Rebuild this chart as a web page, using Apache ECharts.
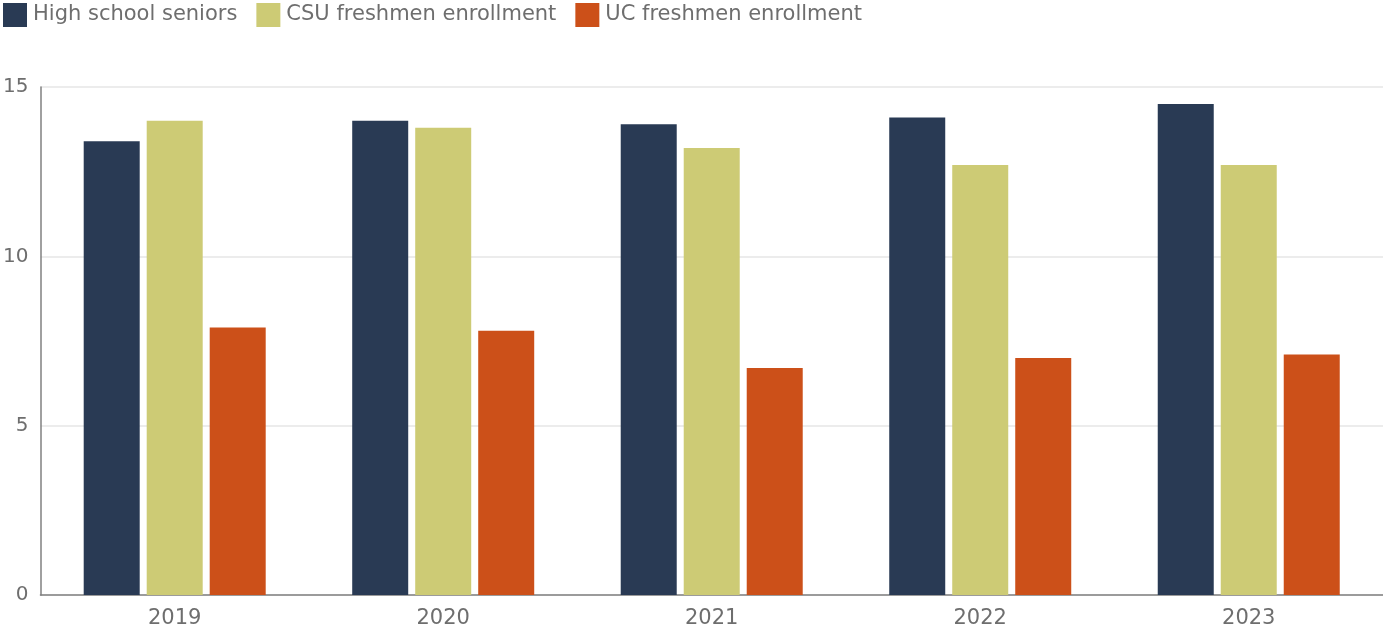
<!DOCTYPE html>
<html>
<head>
<meta charset="utf-8">
<script src="https://cdn.jsdelivr.net/npm/echarts@6/dist/echarts.min.js"></script>
<style>
  html, body { margin: 0; padding: 0; background: #fff; }
  #view { width: 1383px; height: 630px; }
</style>
</head>
<body>
<div id="view"></div>
<script>
var years = ['2019', '2020', '2021', '2022', '2023'];
var hsSeniors = [13.4, 14.0, 13.9, 14.1, 14.5];
var csuFreshmen = [14.0, 13.8, 13.2, 12.7, 12.7];
var ucFreshmen = [7.9, 7.8, 6.7, 7.0, 7.1];
var yTicks = [0, 5, 10, 15];

var myChart = echarts.init(document.getElementById('view'));
var fontName = '"DejaVu Sans", sans-serif';

option = {
    animation: false,
    textStyle: { fontFamily: fontName },
    legend: {
        left: -2,
        top: -2,
        itemWidth: 24,
        itemHeight: 24,
        itemGap: 19,
        icon: 'rect',
        textStyle: { fontSize: 21, color: '#6e6e6e', fontFamily: fontName, padding: [0, 0, 0, 1] },
        data: ['High school seniors', 'CSU freshmen enrollment', 'UC freshmen enrollment']
    },
    grid: {
        left: 40,
        right: 0,
        top: 87,
        bottom: 35,
        containLabel: false
    },
    xAxis: {
        type: 'category',
        data: years,
        axisLine: { lineStyle: { color: '#808080', width: 1.5 } },
        axisTick: { show: false },
        axisLabel: { fontSize: 21, color: '#6e6e6e', margin: 13, fontFamily: fontName }
    },
    yAxis: {
        type: 'value',
        min: yTicks[0],
        max: yTicks[yTicks.length - 1],
        interval: 5,
        axisLine: { show: true, lineStyle: { color: '#808080', width: 1.5 } },
        axisTick: { show: false },
        splitLine: { lineStyle: { color: '#e6e6e6', width: 1.5 } },
        axisLabel: { fontSize: 20, color: '#6e6e6e', margin: 12, fontFamily: fontName }
    },
    series: [{
        name: 'High school seniors',
        type: 'bar',
        data: hsSeniors,
        barWidth: 56,
        barGap: '12.5%',
        itemStyle: { color: '#293a54' }
    }, {
        name: 'CSU freshmen enrollment',
        type: 'bar',
        data: csuFreshmen,
        barWidth: 56,
        barGap: '12.5%',
        itemStyle: { color: '#cdcb75' }
    }, {
        name: 'UC freshmen enrollment',
        type: 'bar',
        data: ucFreshmen,
        barWidth: 56,
        barGap: '12.5%',
        itemStyle: { color: '#cc5019' }
    }]
};

myChart.setOption(option);
</script>
</body>
</html>
